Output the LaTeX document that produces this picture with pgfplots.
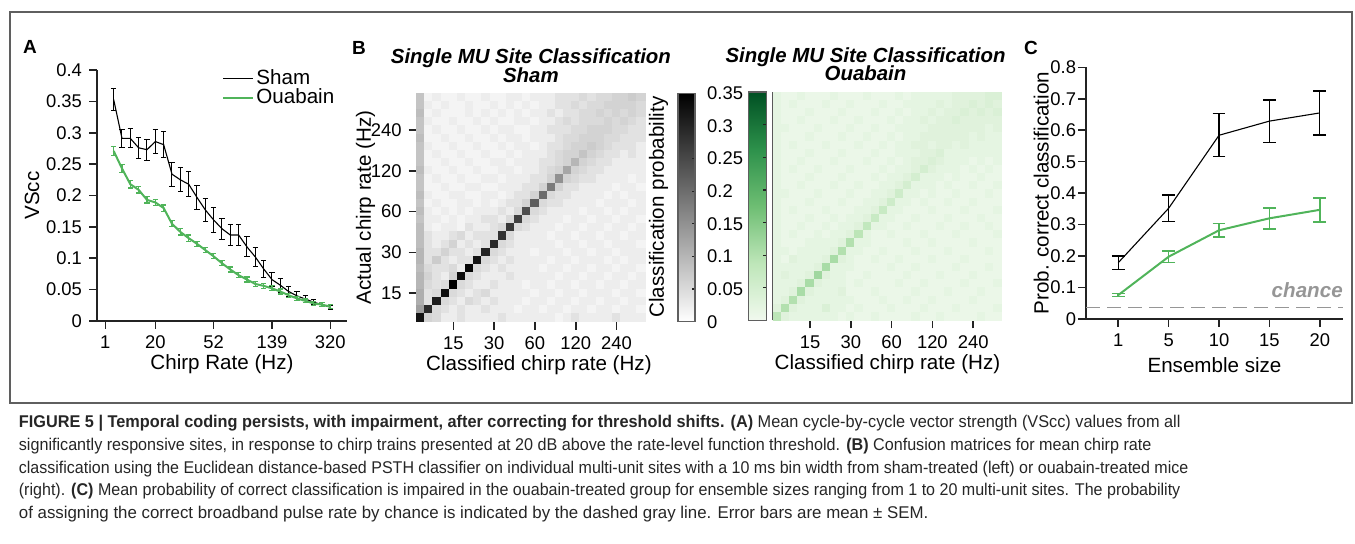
\documentclass[border=0pt]{standalone}
\usepackage{pgfplots}
\pgfplotsset{compat=1.18}
\usepackage{pgfplotstable}
\usepackage{fontspec}
\setmainfont{Liberation Sans}
\newfontfamily\capfont[FakeStretch=0.94]{Liberation Sans}

\definecolor{grn}{RGB}{80,180,90}
\definecolor{axgray}{RGB}{35,35,35}
\definecolor{chancegray}{RGB}{150,150,150}
\definecolor{framegray}{RGB}{95,95,95}

\newcommand{\tickfont}{\fontsize{9.2}{10}\selectfont}
\newcommand{\labfont}{\fontsize{10.3}{12}\selectfont}
\newcommand{\ttlfont}{\bfseries\itshape\fontsize{10.2}{12}\selectfont}

\pgfplotsset{
  panel/.style={
    scale only axis, axis lines=left,
    axis line style={-, line width=0.8pt, color=axgray},
    tick align=outside, major tick length=4pt,
    tick style={line width=0.8pt, color=axgray},
    tick label style={font=\tickfont},
    label style={font=\labfont},
    /pgf/number format/assume math mode=true,
  },
  heat/.style={
    panel, axis on top,
    xmin=-0.5, xmax=27.5, ymin=-0.5, ymax=27.5,
    width=114.2pt, height=114.2pt,
    point meta min=0, point meta max=35,
    xtick={4,9,14,19,24}, xticklabels={15,30,60,120,240},
    xlabel={Classified chirp rate (Hz)},
    xlabel style={yshift=4pt},
    title style={font=\ttlfont, align=center, yshift=-4pt},
  },
  cbar/.style={
    scale only axis, width=8.5pt,
    axis line style={line width=0.75pt, color=framegray},
    ytick={0,5,10,15,20,25,30,35},
    ytick pos=right, tick align=inside, major tick length=1.5pt,
    tick style={line width=0.6pt, color=axgray},
    tick label style={font=\tickfont},
    /pgf/number format/assume math mode=true,
  },
  cell/.style={scatter, only marks, mark=square*, mark size=2.1pt,
    scatter/use mapped color={draw=mapped color, fill=mapped color},
    point meta=explicit},
}

% panel A: VScc per chirp rate (index along the axis)
\pgfplotstableread{
x y e
1 0.353 0.017
2 0.291 0.014
3 0.291 0.015
4 0.276 0.017
5 0.273 0.017
6 0.286 0.019
7 0.281 0.021
8 0.234 0.019
9 0.225 0.019
10 0.218 0.020
11 0.197 0.019
12 0.177 0.019
13 0.161 0.020
14 0.147 0.017
15 0.137 0.016
16 0.137 0.016
17 0.118 0.016
18 0.102 0.015
19 0.083 0.013
20 0.066 0.011
21 0.057 0.011
22 0.047 0.008
23 0.040 0.007
24 0.035 0.005
25 0.030 0.004
26 0.026 0.003
27 0.022 0.003
}\shamA

\pgfplotstableread{
x y e
1 0.271 0.007
2 0.243 0.006
3 0.218 0.006
4 0.209 0.005
5 0.193 0.005
6 0.189 0.005
7 0.180 0.005
8 0.155 0.005
9 0.142 0.005
10 0.132 0.005
11 0.123 0.004
12 0.113 0.004
13 0.103 0.004
14 0.092 0.004
15 0.082 0.004
16 0.073 0.004
17 0.066 0.004
18 0.059 0.004
19 0.056 0.004
20 0.052 0.004
21 0.047 0.004
22 0.041 0.003
23 0.036 0.003
24 0.032 0.003
25 0.028 0.003
26 0.026 0.003
27 0.023 0.003
}\ouaA

% panel B: confusion matrices, probability x100, top row (highest rate) first
\pgfplotstableread[header=false]{
8 1.5 2.5 1.5 1.5 2.5 1.5 1.5 2.5 1.5 1.5 2.5 2.5 1.5 2.5 2.5 2.5 4 4 4 5 4 5 5 6 6 7 6
8 2.5 1.5 2.5 1.5 1.5 2.5 1.5 1.5 2.5 1.5 2.5 1.5 2.5 1.5 2.5 2.5 4 4 5 4 5 5 6 6 6 6 5
9 1.5 2.5 1.5 1.5 1.5 2.5 1.5 2.5 1.5 2.5 1.5 2.5 1.5 2.5 2.5 4 2.5 4 4 5 5 6 5 6 5 6 5
8 2.5 1.5 1.5 2.5 1.5 1.5 2.5 1.5 2.5 1.5 1.5 2.5 2.5 1.5 2.5 2.5 4 5 4 5 5 5 6 5 6 5 4
8 1.5 2.5 1.5 1.5 2.5 1.5 1.5 2.5 1.5 2.5 2.5 1.5 1.5 2.5 2.5 4 4 4 5 5 6 6 6 5 5 4 4
9 1.5 1.5 2.5 1.5 1.5 2.5 1.5 1.5 2.5 1.5 2.5 2.5 1.5 2.5 2.5 2.5 4 5 5 6 6 6 5 5 4 4 4
8 2.5 1.5 1.5 2.5 1.5 1.5 2.5 1.5 1.5 2.5 1.5 2.5 2.5 1.5 2.5 4 4 5 6 6 7 6 5 4 4 4 2.5
8 1.5 2.5 1.5 1.5 2.5 1.5 1.5 2.5 1.5 1.5 2.5 1.5 2.5 2.5 2.5 4 5 6 6 8 6 5 4 4 2.5 4 2.5
8 1.5 1.5 2.5 1.5 1.5 2.5 1.5 1.5 2.5 2.5 1.5 2.5 2.5 2.5 4 4 5 6 10 6 5 4 4 2.5 2.5 2.5 2.5
9 2.5 1.5 1.5 2.5 1.5 1.5 2.5 1.5 1.5 2.5 2.5 1.5 2.5 2.5 4 5 6 12 6 5 4 4 2.5 2.5 2.5 2.5 2.5
8 1.5 2.5 1.5 1.5 2.5 1.5 1.5 2.5 2.5 1.5 2.5 2.5 2.5 4 4 6 15 6 5 4 4 2.5 2.5 2.5 2.5 1.5 2.5
8 1.5 1.5 2.5 1.5 1.5 2.5 2.5 1.5 1.5 2.5 2.5 2.5 4 4 6 18 6 4 4 2.5 2.5 2.5 2.5 1.5 2.5 2.5 1.5
9 2.5 1.5 1.5 2.5 2.5 1.5 1.5 2.5 2.5 1.5 2.5 4 4 6 20 5 4 4 2.5 2.5 2.5 2.5 1.5 2.5 1.5 2.5 2.5
8 1.5 2.5 1.5 1.5 2.5 2.5 1.5 2.5 1.5 2.5 4 4 6 22 5 4 4 2.5 2.5 2.5 2.5 1.5 2.5 2.5 2.5 1.5 2.5
9 2.5 1.5 2.5 1.5 2.5 1.5 2.5 2.5 2.5 4 2.5 5 24 5 4 2.5 2.5 2.5 2.5 1.5 2.5 2.5 1.5 2.5 1.5 2.5 2.5
8 2.5 2.5 1.5 2.5 1.5 2.5 2.5 4 4 2.5 5 26 5 4 2.5 2.5 2.5 1.5 2.5 2.5 1.5 2.5 2.5 1.5 2.5 2.5 1.5
9 2.5 1.5 2.5 2.5 1.5 4 2.5 2.5 4 5 27 5 4 2.5 2.5 2.5 1.5 2.5 2.5 1.5 2.5 2.5 1.5 2.5 2.5 1.5 2.5
9 4 2.5 2.5 4 5 2.5 4 4 4 28 5 2.5 2.5 2.5 2.5 1.5 2.5 2.5 1.5 2.5 2.5 1.5 2.5 2.5 1.5 2.5 2.5
9 4 2.5 4 6 2.5 4 2.5 4 29 5 4 2.5 2.5 2.5 2.5 2.5 1.5 2.5 2.5 1.5 2.5 2.5 1.5 2.5 2.5 2.5 1.5
10 4 4 6 4 4 2.5 4 30 5 4 2.5 2.5 2.5 1.5 2.5 2.5 2.5 1.5 2.5 2.5 1.5 2.5 2.5 1.5 2.5 2.5 2.5
10 4 7 4 2.5 4 4 32 5 4 2.5 4 2.5 2.5 2.5 2.5 1.5 2.5 2.5 1.5 2.5 2.5 2.5 1.5 2.5 1.5 2.5 2.5
9 5 4 4 5 2.5 34 5 4 2.5 4 2.5 2.5 2.5 2.5 1.5 2.5 2.5 1.5 2.5 2.5 1.5 2.5 2.5 1.5 2.5 2.5 1.5
10 6 4 2.5 6 33 5 4 2.5 2.5 2.5 4 2.5 2.5 2.5 2.5 2.5 1.5 2.5 2.5 1.5 2.5 2.5 1.5 2.5 2.5 1.5 2.5
10 5 4 5 35 5 4 2.5 2.5 4 2.5 2.5 2.5 1.5 2.5 2.5 1.5 2.5 2.5 1.5 2.5 2.5 1.5 2.5 2.5 1.5 2.5 2.5
11 4 5 33 5 4 2.5 4 5 2.5 2.5 2.5 2.5 2.5 1.5 2.5 2.5 1.5 2.5 2.5 1.5 2.5 2.5 2.5 1.5 2.5 2.5 1.5
11 4 31 5 4 2.5 5 4 2.5 4 2.5 2.5 2.5 1.5 2.5 2.5 1.5 2.5 2.5 1.5 2.5 2.5 1.5 2.5 2.5 1.5 2.5 2.5
13 29 5 4 2.5 4 2.5 2.5 4 2.5 2.5 2.5 1.5 2.5 2.5 1.5 2.5 2.5 1.5 2.5 2.5 1.5 2.5 2.5 1.5 2.5 2.5 1.5
32 6 5 2.5 2.5 4 2.5 2.5 2.5 2.5 4 2.5 2.5 2.5 2.5 2.5 2.5 1.5 2.5 4 2.5 2.5 2.5 2.5 4 2.5 2.5 2.5
}\shamM

\pgfplotstableread[header=false]{
2 1 1 2 1 1 1 2 1 1 1 2 1 1 1 2 1 2 2 2 2 2 3 3 3 3 4 4
2 1 2 1 1 1 2 1 1 2 1 1 1 2 1 1 2 2 2 2 3 2 3 3 4 3 4 3
2 1 1 1 2 1 1 1 2 1 1 1 2 1 1 2 1 2 2 3 2 3 3 4 3 4 3 4
2 1 1 2 1 1 1 2 1 1 2 1 1 1 2 1 2 2 3 2 3 3 4 3 3 3 3 3
2 2 1 1 1 2 1 1 1 2 1 1 2 1 1 2 2 2 2 3 3 3 3 3 3 3 2 3
2 1 1 1 2 1 1 1 2 1 1 2 1 1 2 1 2 2 3 3 3 3 3 3 2 3 2 2
2 1 2 1 1 1 2 1 1 1 2 1 1 2 1 2 2 3 3 2 3 3 2 3 2 2 2 2
2 1 1 1 2 1 1 1 2 1 1 1 2 1 1 2 2 2 3 3 4 2 2 2 2 2 2 2
2 1 1 2 1 1 1 2 1 1 1 2 1 1 2 1 2 3 3 4 3 2 2 2 1 2 1 2
2 1 2 1 1 2 1 1 1 2 1 1 1 2 1 2 2 3 5 3 2 2 2 1 2 1 2 1
2 1 1 1 2 1 1 1 2 1 1 1 2 1 2 2 3 5 2 2 2 1 2 1 1 2 1 1
2 1 1 2 1 1 1 2 1 1 2 1 1 2 2 3 5 2 2 2 1 2 1 1 2 1 1 2
2 2 1 1 1 2 1 1 1 2 1 1 2 2 3 6 2 2 1 2 1 1 2 1 1 1 2 1
2 1 1 1 2 1 1 1 2 1 1 2 2 3 6 2 2 1 2 1 1 2 1 1 2 1 1 1
2 1 2 1 1 1 2 1 1 1 2 2 3 7 2 2 1 1 1 2 1 1 1 2 1 1 1 2
2 1 1 1 2 1 1 2 1 2 2 3 7 2 2 1 1 2 1 1 1 2 1 1 1 2 1 1
2 1 1 2 1 1 2 1 2 2 3 8 2 2 1 1 2 1 1 1 2 1 1 2 1 1 2 1
2 1 2 1 1 2 1 2 2 3 9 2 1 1 2 1 1 1 2 1 1 1 2 1 1 1 1 2
2 1 1 1 2 2 2 2 3 10 2 2 1 1 1 1 2 1 1 2 1 1 1 1 2 1 1 1
2 2 1 2 2 2 2 3 10 2 2 1 1 2 1 1 1 2 1 1 1 2 1 1 1 1 2 1
2 1 3 2 2 2 3 11 3 2 1 1 2 1 1 2 1 1 1 2 1 1 1 2 1 1 1 1
2 2 2 2 2 3 11 2 2 2 1 1 1 1 2 1 1 2 1 1 1 1 2 1 1 1 2 1
2 3 2 2 3 12 3 2 2 1 1 2 1 1 1 1 2 1 1 1 2 1 1 1 2 1 1 1
2 2 2 3 11 3 2 2 2 1 2 1 1 1 1 2 1 1 2 1 1 1 1 2 1 1 1 2
2 2 3 11 3 2 2 2 3 1 1 1 2 1 1 1 1 2 1 1 1 2 1 1 1 2 1 1
2 3 10 3 2 2 2 2 2 2 1 1 1 2 1 1 2 1 1 2 1 1 1 1 2 1 1 1
3 10 3 2 2 2 4 2 2 1 2 1 1 1 2 1 1 1 2 1 1 1 2 1 1 1 1 2
9 3 2 2 2 2 2 2 1 2 1 1 2 1 1 1 1 2 1 1 2 1 1 1 1 2 1 1
}\ouaM

% panel C: ensemble classification
\pgfplotstableread{
x y e
0 0.179 0.021
1 0.352 0.042
2 0.584 0.068
3 0.629 0.067
4 0.655 0.070
}\shamC

\pgfplotstableread{
x y e
0 0.076 0.005
1 0.198 0.019
2 0.282 0.022
3 0.320 0.033
4 0.347 0.038
}\ouaC

\begin{document}
\begin{tikzpicture}

% outer frame
\draw[line width=0.75pt, framegray] (5pt,-6pt) rectangle (676pt,-201.5pt);

% ---------- A ----------
\node[font=\bfseries\fontsize{9.5}{10}\selectfont] at (15pt,-23.5pt) {A};
\begin{axis}[panel,
  at={(48.5pt,-160.5pt)}, anchor=south west,
  width=125pt, height=125.5pt,
  xmin=-1, xmax=29, ymin=0, ymax=0.4,
  xtick={0,6,13,20,27}, xticklabels={1,20,52,139,320},
  ytick={0,0.05,0.1,0.15,0.2,0.25,0.3,0.35,0.4},
  yticklabels={0,0.05,0.1,0.15,0.2,0.25,0.3,0.35,0.4},
  xlabel={Chirp Rate (Hz)}, ylabel={VScc},
  xlabel style={yshift=4pt},
  ylabel shift=-3.5pt,
  legend style={at={(rel axis cs:0.5,1.01)}, anchor=north west,
    draw=none, fill=none, font=\labfont, row sep=-1.5pt,
    inner sep=0pt, nodes={inner sep=1pt}},
  legend cell align=left,
  legend image code/.code={\draw[#1] (0pt,0pt) -- (15pt,0pt);},
]
\addplot[black, line width=0.55pt,
  error bars/.cd, y dir=both, y explicit,
  error bar style={line width=0.5pt},
  error mark options={rotate=90, mark size=1.4pt, line width=0.5pt}]
  table[x=x, y=y, y error=e] {\shamA};
\addlegendentry{Sham}
\addplot[grn, line width=1pt,
  error bars/.cd, y dir=both, y explicit,
  error bar style={line width=0.6pt},
  error mark options={rotate=90, mark size=1.4pt, line width=0.6pt}]
  table[x=x, y=y, y error=e] {\ouaA};
\addlegendentry{Ouabain}
\end{axis}

% ---------- B ----------
\node[font=\bfseries\fontsize{9.5}{10}\selectfont] at (179.5pt,-24pt) {B};
\begin{axis}[heat,
  at={(208.35pt,-160.85pt)}, anchor=south west,
  ytick={3,8,13,18,23}, yticklabels={15,30,60,120,240},
  ylabel={Actual chirp rate (Hz)},
  ylabel shift=-9pt,
  xlabel style={xshift=4pt},
  title={Single MU Site Classification\\[-2.75pt]Sham},
  colormap={bw}{rgb255(0cm)=(255,255,255); rgb255(1cm)=(0,0,0)},
  colorbar,
  colorbar style={cbar, at={(parent axis.south east)}, anchor=south west,
    xshift=8pt,
    yticklabels={0,0.05,0.1,0.15,0.2,0.25,0.3,0.35},
    yticklabel pos=right,
    yticklabel style={xshift=2.5pt}},
]
\pgfplotsinvokeforeach{0,...,27}{
  \addplot[cell] table[x expr=#1, y expr=27-\coordindex, meta index=#1] {\shamM};
}
\end{axis}

\node[rotate=90, font=\labfont] at (329.25pt,-103.5pt) {Classification probability};

\begin{axis}[heat,
  at={(386.65pt,-160.25pt)}, anchor=south west,
  ytick=\empty,
  y axis line style={line width=1.1pt, color=black!65},
  title={Single MU Site Classification\\[-2.75pt]Ouabain},
  title style={xshift=-11pt},
  colormap={greens}{rgb255(0cm)=(241,249,238); rgb255(1cm)=(190,230,185);
    rgb255(2cm)=(110,190,115); rgb255(3cm)=(45,145,75); rgb255(4cm)=(0,80,35)},
  colorbar,
  colorbar style={cbar, width=9pt, at={(parent axis.south west)},
    anchor=south east, xshift=-12pt,
    yticklabels={}, yticklabel pos=right},
]
\pgfplotsinvokeforeach{0,...,27}{
  \addplot[cell] table[x expr=#1, y expr=27-\coordindex, meta index=#1] {\ouaM};
}
\end{axis}

% ---------- C ----------
\node[font=\bfseries\fontsize{9.5}{10}\selectfont] at (515.5pt,-23.75pt) {C};
\begin{axis}[panel,
  at={(543pt,-159.5pt)}, anchor=south west,
  width=128.5pt, height=125.85pt,
  xmin=-0.64, xmax=4.46, ymin=0, ymax=0.8,
  xtick={0,1,2,3,4}, xticklabels={1,5,10,15,20},
  ytick={0,0.1,0.2,0.3,0.4,0.5,0.6,0.7,0.8},
  yticklabels={0,0.1,0.2,0.3,0.4,0.5,0.6,0.7,0.8},
  yticklabel style={inner sep=0.8pt},
  xlabel={Ensemble size}, ylabel={Prob. correct classification},
  xlabel style={yshift=1.5pt},
  ylabel shift=-3.5pt,
]
\addplot[chancegray, line width=0.8pt, dash pattern=on 7pt off 3.5pt]
  coordinates {(-0.64,0.036) (4.46,0.036)};
\addplot[black, line width=0.55pt,
  error bars/.cd, y dir=both, y explicit,
  error bar style={line width=0.6pt},
  error mark options={rotate=90, mark size=3.2pt, line width=0.6pt}]
  table[x=x, y=y, y error=e] {\shamC};
\addplot[grn, line width=1pt,
  error bars/.cd, y dir=both, y explicit,
  error bar style={line width=0.8pt},
  error mark options={rotate=90, mark size=3.2pt, line width=0.8pt}]
  table[x=x, y=y, y error=e] {\ouaC};
\node[font=\bfseries\itshape\labfont, text=chancegray] at (axis cs:3.75,0.092) {chance};
\end{axis}

% ---------- caption ----------
\begin{scope}[every node/.style={anchor=base west, inner sep=0pt,
    font=\capfont\fontsize{8.5}{10}\selectfont, text=black!85}]
\node at (9.25pt,-214pt) {\resizebox{580.75pt}{\height}{\textbf{FIGURE 5 | Temporal coding persists, with impairment, after correcting for threshold shifts. (A)} Mean cycle-by-cycle vector strength (VScc) values from all}};
\node at (9.25pt,-225.5pt) {\resizebox{566.25pt}{\height}{significantly responsive sites, in response to chirp trains presented at 20 dB above the rate-level function threshold. \textbf{(B)} Confusion matrices for mean chirp rate}};
\node at (9.25pt,-236.75pt) {\resizebox{584.75pt}{\height}{classification using the Euclidean distance-based PSTH classifier on individual multi-unit sites with a 10 ms bin width from sham-treated (left) or ouabain-treated mice}};
\node at (9.25pt,-247.75pt) {\resizebox{580.75pt}{\height}{(right). \textbf{(C)} Mean probability of correct classification is impaired in the ouabain-treated group for ensemble sizes ranging from 1 to 20 multi-unit sites. The probability}};
\node at (9.25pt,-259.25pt) {\resizebox{454.75pt}{\height}{of assigning the correct broadband pulse rate by chance is indicated by the dashed gray line. Error bars are mean ± SEM.}};
\end{scope}

\pgfresetboundingbox
\path[use as bounding box] (0pt,0pt) rectangle (677.5pt,-272pt);
\end{tikzpicture}
\end{document}
